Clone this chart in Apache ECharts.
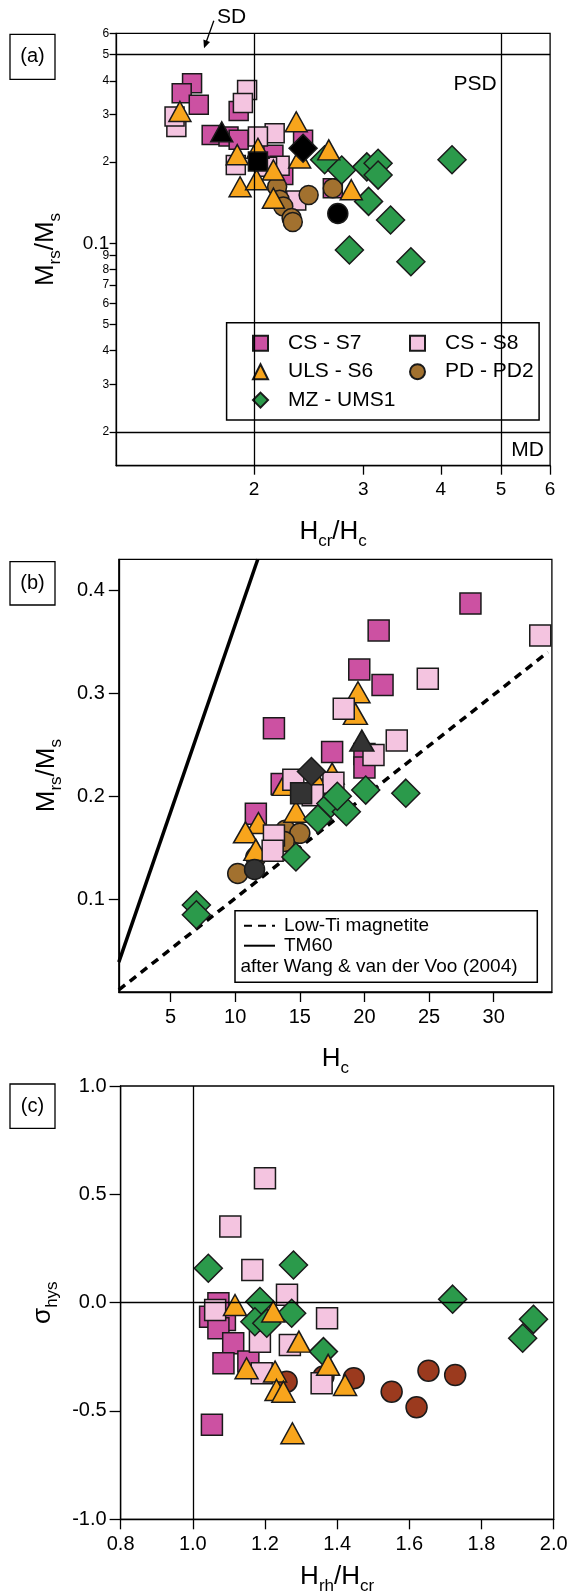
<!DOCTYPE html>
<html>
<head>
<meta charset="utf-8">
<script src="https://cdn.jsdelivr.net/npm/echarts@6/dist/echarts.min.js"></script>
<style>
  html, body { margin: 0; padding: 0; background: #fff; }
  #chart { width: 573px; height: 1593px; }
</style>
</head>
<body>
<div id="chart"></div>
<script>
// ---------- (a) Day plot: Hcr/Hc vs Mrs/Ms ----------
const dayS7   = [[1.59,0.392],[1.53,0.360],[1.63,0.326],[1.89,0.309],[1.71,0.252],[1.82,0.249],[1.89,0.242],[2.40,0.242],[2.15,0.213],[2.23,0.179],[2.68,0.160]];
const dayS8   = [[1.95,0.370],[1.92,0.331],[1.50,0.270],[1.49,0.295],[2.16,0.256],[2.03,0.249],[2.20,0.194],[2.10,0.192],[1.87,0.195],[2.34,0.144]];
const dayS6   = [[1.52,0.308],[2.34,0.282],[1.88,0.213],[2.03,0.225],[2.64,0.222],[2.15,0.187],[1.90,0.162],[2.37,0.207],[2.02,0.172],[2.15,0.147],[2.87,0.158]];
const dayPD2  = [[2.18,0.162],[2.45,0.151],[2.20,0.145],[2.23,0.137],[2.30,0.124],[2.31,0.120],[2.68,0.160]];
const dayUMS1 = [[2.60,0.204],[2.77,0.187],[3.04,0.192],[3.17,0.198],[3.17,0.179],[3.06,0.143],[3.32,0.122],[4.17,0.204],[2.85,0.0945],[3.58,0.0855]];
// key samples shown in black
const dayKeyS6   = [[1.775,0.259]];
const dayKeyS7   = [[2.03,0.201]];
const dayKeyUMS1 = [[2.40,0.225]];
const dayKeyPD2  = [[2.73,0.129]];
// domain boundaries (SD / PSD / MD)
const dayLimitsX = [2, 5];
const dayLimitsY = [0.5, 0.02];
const dayXTicks = [2, 3, 4, 5, 6];
const dayYTicks = [0.02,0.03,0.04,0.05,0.06,0.07,0.08,0.09,0.1,0.2,0.3,0.4,0.5,0.6];

// ---------- (b) Hc vs Mrs/Ms ----------
const hcS7   = [[28.2,0.387],[21.1,0.361],[19.6,0.323],[21.4,0.308],[13.0,0.266],[17.5,0.243],[20.0,0.241],[20.0,0.228],[13.6,0.212],[11.6,0.183]];
const hcS8   = [[33.6,0.356],[24.9,0.314],[18.4,0.285],[22.5,0.254],[20.7,0.240],[14.5,0.216],[17.6,0.213],[13.0,0.162],[12.9,0.147],[16.0,0.201]];
const hcS6   = [[19.5,0.301],[19.3,0.280],[17.5,0.222],[13.8,0.211],[14.7,0.185],[11.8,0.174],[10.8,0.165],[11.6,0.148],[16.4,0.212]];
const hcPD2  = [[10.2,0.125],[11.6,0.141],[13.9,0.167],[15.0,0.164],[13.8,0.156]];
const hcUMS1 = [[7.0,0.0945],[7.0,0.085],[14.7,0.141],[16.4,0.178],[17.4,0.193],[18.6,0.185],[20.1,0.206],[23.2,0.203],[17.9,0.200]];
const hcKeyS6   = [[19.8,0.254]];
const hcKeyS7   = [[15.1,0.203]];
const hcKeyUMS1 = [[15.9,0.224]];
const hcKeyPD2  = [[11.5,0.129]];
// reference trends after Wang & van der Voo (2004)
const lowTiLine = [[1, 0.012], [34.2, 0.340]];
const tm60Line  = [[1, 0.039], [11.75, 0.43]];
const hcXTicks = [5, 10, 15, 20, 25, 30];
const hcYTicks = [0.1, 0.2, 0.3, 0.4];

// ---------- (c) Hrh/Hcr vs sigma_hys ----------
const shS7   = [[1.071,-0.003],[1.048,-0.065],[1.089,-0.080],[1.071,-0.118],[1.112,-0.187],[1.085,-0.280],[1.154,-0.272],[1.053,-0.564]];
const shS8   = [[1.200,0.574],[1.104,0.351],[1.165,0.151],[1.261,0.036],[1.372,-0.072],[1.062,-0.034],[1.186,-0.180],[1.269,-0.195],[1.191,-0.326],[1.357,-0.372]];
const shS6   = [[1.117,-0.011],[1.223,-0.041],[1.294,-0.180],[1.375,-0.287],[1.149,-0.303],[1.228,-0.318],[1.232,-0.403],[1.251,-0.411],[1.422,-0.380],[1.276,-0.603]];
const shPD2  = [[1.260,-0.365],[1.362,-0.341],[1.446,-0.349],[1.551,-0.411],[1.620,-0.483],[1.653,-0.314],[1.727,-0.334]];
const shUMS1 = [[1.043,0.159],[1.279,0.174],[1.186,0.005],[1.720,0.016],[1.944,-0.077],[1.914,-0.164],[1.274,-0.049],[1.172,-0.088],[1.205,-0.095],[1.362,-0.226]];
const shRefX = [1.0];
const shRefY = [0];
const shXTicks = [0.8, 1.0, 1.2, 1.4, 1.6, 1.8, 2.0];
const shYTicks = [-1, -0.5, 0, 0.5, 1];

const groupNames = ['CS - S7', 'CS - S8', 'ULS - S6', 'PD - PD2', 'MZ - UMS1'];

// ---------- styling ----------
const FONT = '"Liberation Sans", Arial, Helvetica, sans-serif';
const C = {
  s7: '#cc51a2', s8: '#f4c4e0', s6: '#f8a51c', pd2: '#a2712f', pd2c: '#9b3a1e',
  ums1: '#2b9a4b', key: '#000000', keyB: '#333333', edge: '#1a1a1a'
};

function scatter(name, data, idx, symbol, size, color, z) {
  return {
    type: 'scatter', name: name, data: data,
    xAxisIndex: idx, yAxisIndex: idx,
    symbol: symbol, symbolSize: size, z: z, symbolKeepAspect: true,
    itemStyle: { color: color, borderColor: C.edge, borderWidth: 1.5, opacity: 1 },
    emphasis: { disabled: true }
  };
}

function refLines(idx, xs, ys) {
  return {
    type: 'line', name: 'ref' + idx, data: [], xAxisIndex: idx, yAxisIndex: idx,
    silent: true, z: 1,
    markLine: {
      silent: true, symbol: ['none', 'none'], label: { show: false },
      lineStyle: { color: '#000', width: 1.3, type: 'solid' },
      emphasis: { disabled: true },
      data: xs.map(v => ({ xAxis: v })).concat(ys.map(v => ({ yAxis: v })))
    }
  };
}

const nameRich = {
  m: { fontSize: 26, lineHeight: 26, verticalAlign: 'top', color: '#000', fontFamily: FONT },
  s: { fontSize: 17, lineHeight: 17, padding: [14, 0, 0, 0], verticalAlign: 'top', color: '#000', fontFamily: FONT }
};
const axisLineStyle = { color: '#000', width: 1.3 };

function xAxis(idx, type, min, max, ticks, fmt, name, nameGap, tickLen, margin, fontSize) {
  return {
    gridIndex: idx, type: type, min: min, max: max,
    axisLine: { show: true, onZero: false, lineStyle: axisLineStyle },
    axisTick: { show: true, inside: false, length: tickLen, customValues: ticks, lineStyle: axisLineStyle },
    axisLabel: { customValues: ticks, formatter: fmt, fontSize: fontSize, color: '#000', margin: margin, fontFamily: FONT },
    splitLine: { show: false }, minorTick: { show: false },
    name: name, nameLocation: 'middle', nameGap: nameGap,
    nameTextStyle: { rich: nameRich }
  };
}
function yAxis(idx, type, min, max, ticks, fmt, name, nameGap, tickLen, margin, fontSize, rich) {
  const label = { customValues: ticks, formatter: fmt, fontSize: fontSize, color: '#000', margin: margin, fontFamily: FONT };
  if (rich) label.rich = rich;
  return {
    gridIndex: idx, type: type, min: min, max: max,
    axisLine: { show: true, onZero: false, lineStyle: axisLineStyle },
    axisTick: { show: true, inside: false, length: tickLen, customValues: ticks, lineStyle: axisLineStyle },
    axisLabel: label,
    splitLine: { show: false }, minorTick: { show: false },
    name: name, nameLocation: 'middle', nameGap: nameGap,
    nameTextStyle: { rich: nameRich }
  };
}

function dayYLabel(v) {
  if (Math.abs(v - 0.1) < 1e-9) return '{b|0.1}';
  const d = v < 0.1 ? Math.round(v * 100) : Math.round(v * 10);
  return '{n|' + d + '}';
}

const gridBox = { show: true, borderColor: '#000', borderWidth: 1.3, backgroundColor: 'transparent', containLabel: false, outerBoundsMode: 'none' };

function tag(text, x, y, h) {
  return [
    { type: 'rect', z: 3, shape: { x: x, y: y, width: 45, height: h }, style: { fill: '#fff', stroke: '#000', lineWidth: 1.3 } },
    { type: 'text', z: 3, x: x + 22.5, y: y + h / 2, style: { text: text, font: '20px ' + FONT, fill: '#000', align: 'center', verticalAlign: 'middle' } }
  ];
}

const option = {
  animation: false,
  backgroundColor: '#fff',
  textStyle: { fontFamily: FONT, color: '#000' },
  grid: [
    Object.assign({ left: 116.2, top: 33.3, width: 433.9, height: 432.4 }, gridBox),
    Object.assign({ left: 118.8, top: 559.3, width: 433.1, height: 432.7 }, gridBox),
    Object.assign({ left: 120.6, top: 1086, width: 433.1, height: 433.3 }, gridBox)
  ],
  xAxis: [
    xAxis(0, 'log', 1.2, 6, dayXTicks, v => String(Math.round(v)), '{m|H}{s|cr}{m|/H}{s|c}', 53, 9, 15, 19),
    xAxis(1, 'value', 1, 34.5, hcXTicks, v => String(Math.round(v)), '{m|H}{s|c}', 54, 10, 15, 20),
    xAxis(2, 'value', 0.8, 2.0, shXTicks, v => v.toFixed(1), '{m|H}{s|rh}{m|/H}{s|cr}', 45, 10, 15, 20)
  ],
  yAxis: [
    yAxis(0, 'log', 0.015, 0.6, dayYTicks, dayYLabel, '{m|M}{s|rs}{m|/M}{s|s}', 57, 6.6, 7, 12,
          { b: { fontSize: 19, color: '#000', fontFamily: FONT }, n: { fontSize: 12, color: '#000', fontFamily: FONT } }),
    yAxis(1, 'value', 0.01, 0.43, hcYTicks, v => v.toFixed(1), '{m|M}{s|rs}{m|/M}{s|s}', 59, 10, 14, 20),
    yAxis(2, 'value', -1, 1, shYTicks, v => v.toFixed(1), '{m|σ}{s|hys}', 60, 11, 14, 20)
  ],
  legend: [
    {
      data: groupNames, orient: 'horizontal', left: 252, top: 332.1, width: 330,
      padding: 0, itemGap: 6, itemWidth: 15, itemHeight: 15, z: 4,
      selectedMode: false, symbolKeepAspect: true,
      textStyle: { fontSize: 21, color: '#000', width: 115, lineHeight: 22.4, padding: [0, 0, 0, 15], fontFamily: FONT }
    },
    {
      data: ['Low-Ti magnetite', 'TM60'], orient: 'vertical', left: 243, top: 915.7,
      padding: 0, itemGap: 0, itemWidth: 31, itemHeight: 14, z: 4,
      selectedMode: false,
      itemStyle: { opacity: 0 },
      lineStyle: { opacity: 1 },
      textStyle: { fontSize: 19, color: '#000', lineHeight: 20, padding: [0, 0, 0, 4], fontFamily: FONT }
    }
  ],
  series: [
    // (a)
    refLines(0, dayLimitsX, dayLimitsY),
    scatter('CS - S7', dayS7, 0, 'rect', 19, C.s7, 2),
    scatter('CS - S8', dayS8, 0, 'rect', 19, C.s8, 2),
    scatter('PD - PD2', dayPD2, 0, 'circle', 19, C.pd2, 2),
    scatter('MZ - UMS1', dayUMS1, 0, 'diamond', 28, C.ums1, 2),
    scatter('ULS - S6', dayS6, 0, 'triangle', [22, 20], C.s6, 2),
    scatter('S6 key', dayKeyS6, 0, 'triangle', [22, 20], C.key, 2),
    scatter('S7 key', dayKeyS7, 0, 'rect', 19, C.key, 2),
    scatter('UMS1 key', dayKeyUMS1, 0, 'diamond', 28, C.key, 2),
    scatter('PD2 key', dayKeyPD2, 0, 'circle', 20, C.key, 2),
    // (b)
    {
      type: 'line', name: 'TM60', data: tm60Line, xAxisIndex: 1, yAxisIndex: 1,
      symbol: 'none', silent: true, z: 1,
      lineStyle: { color: '#000', width: 3.5, type: 'solid' }, itemStyle: { color: '#000', opacity: 0 }
    },
    {
      type: 'line', name: 'Low-Ti magnetite', data: lowTiLine, xAxisIndex: 1, yAxisIndex: 1,
      symbol: 'none', silent: true, z: 1,
      lineStyle: { color: '#000', width: 3.5, type: [8, 6] }, itemStyle: { color: '#000', opacity: 0 }
    },
    scatter('PD - PD2', hcPD2, 1, 'circle', 20, C.pd2, 2),
    scatter('CS - S7', hcS7, 1, 'rect', 21, C.s7, 2),
    scatter('ULS - S6', hcS6, 1, 'triangle', [24, 21], C.s6, 2),
    scatter('CS - S8', hcS8, 1, 'rect', 21, C.s8, 2),
    scatter('S6 key', hcKeyS6, 1, 'triangle', [24, 21], C.keyB, 2),
    scatter('S7 key', hcKeyS7, 1, 'rect', 21, C.keyB, 2),
    scatter('UMS1 key', hcKeyUMS1, 1, 'diamond', 28, C.keyB, 2),
    scatter('PD2 key', hcKeyPD2, 1, 'circle', 20, C.keyB, 2),
    scatter('MZ - UMS1', hcUMS1, 1, 'diamond', 28, C.ums1, 2),
    // (c)
    refLines(2, shRefX, shRefY),
    scatter('PD - PD2', shPD2, 2, 'circle', 21, C.pd2c, 2),
    scatter('CS - S7', shS7, 2, 'rect', 21, C.s7, 2),
    scatter('CS - S8', shS8, 2, 'rect', 21, C.s8, 2),
    scatter('MZ - UMS1', shUMS1, 2, 'diamond', 28, C.ums1, 2),
    scatter('ULS - S6', shS6, 2, 'triangle', [23, 21], C.s6, 2)
  ],
  graphic: [].concat(
    tag('(a)', 10, 34.3, 45),
    tag('(b)', 10, 561.7, 43.3),
    tag('(c)', 10, 1084, 44.3),
    [
      // legend frames
      { type: 'rect', z: 3, shape: { x: 226.6, y: 322.7, width: 312.5, height: 97.3 }, style: { fill: '#fff', stroke: '#000', lineWidth: 1.5 } },
      { type: 'rect', z: 3, shape: { x: 235, y: 910.7, width: 302.3, height: 71.6 }, style: { fill: '#fff', stroke: '#000', lineWidth: 1.5 } },
      { type: 'text', z: 5, x: 240.5, y: 966.7, style: { text: 'after Wang & van der Voo (2004)', font: '19px ' + FONT, fill: '#000', align: 'left', verticalAlign: 'middle' } },
      // domain names
      { type: 'text', z: 3, x: 231.7, y: 17.2, style: { text: 'SD', font: '21px ' + FONT, fill: '#000', align: 'center', verticalAlign: 'middle' } },
      { type: 'line', z: 3, shape: { x1: 213.8, y1: 20.7, x2: 205.5, y2: 44 }, style: { stroke: '#000', lineWidth: 1.3 } },
      { type: 'polygon', z: 3, shape: { points: [[204, 48.3], [210, 42], [203.4, 39.6]] }, style: { fill: '#000' } },
      { type: 'text', z: 3, x: 475, y: 84.7, style: { text: 'PSD', font: '21px ' + FONT, fill: '#000', align: 'center', verticalAlign: 'middle' } },
      { type: 'text', z: 3, x: 527.5, y: 450.3, style: { text: 'MD', font: '21px ' + FONT, fill: '#000', align: 'center', verticalAlign: 'middle' } }
    ]
  )
};

const chart = echarts.init(document.getElementById('chart'), null, { renderer: 'canvas', width: 573, height: 1593 });
chart.setOption(option);
</script>
</body>
</html>
